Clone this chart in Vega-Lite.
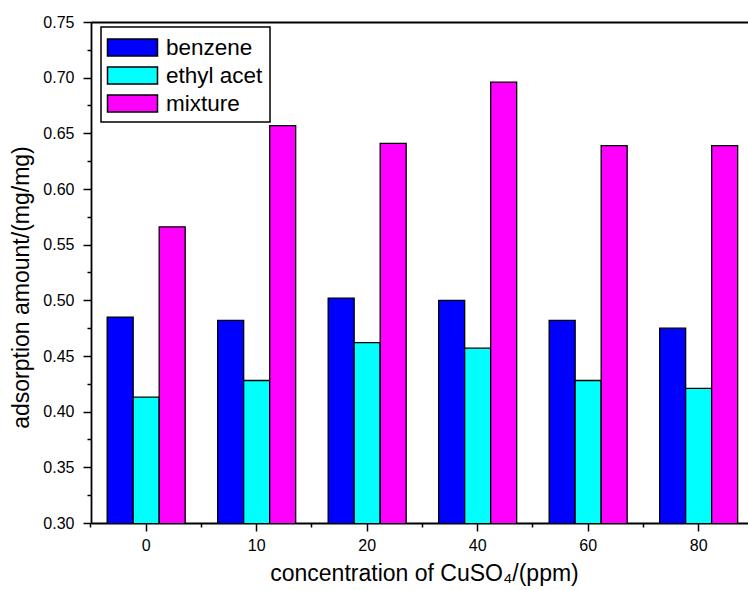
{
  "$schema": "https://vega.github.io/schema/vega-lite/v6.json",
  "autosize": "none",
  "width": 657,
  "height": 501,
  "padding": {"left": 91, "top": 22, "right": 0, "bottom": 67},
  "background": "white",
  "config": {
    "view": {"stroke": null},
    "font": "Liberation Sans",
    "axis": {"labelFont": "Liberation Sans", "titleFont": "Liberation Sans", "labelColor": "black", "titleColor": "black", "domainColor": "black", "tickColor": "black", "titleFontWeight": "normal"}
  },
  "data": {"values": [
    {"conc": "0", "series": "benzene", "value": 0.485},
    {"conc": "0", "series": "ethyl acet", "value": 0.413},
    {"conc": "0", "series": "mixture", "value": 0.566},
    {"conc": "10", "series": "benzene", "value": 0.482},
    {"conc": "10", "series": "ethyl acet", "value": 0.428},
    {"conc": "10", "series": "mixture", "value": 0.657},
    {"conc": "20", "series": "benzene", "value": 0.502},
    {"conc": "20", "series": "ethyl acet", "value": 0.462},
    {"conc": "20", "series": "mixture", "value": 0.641},
    {"conc": "40", "series": "benzene", "value": 0.500},
    {"conc": "40", "series": "ethyl acet", "value": 0.457},
    {"conc": "40", "series": "mixture", "value": 0.696},
    {"conc": "60", "series": "benzene", "value": 0.482},
    {"conc": "60", "series": "ethyl acet", "value": 0.428},
    {"conc": "60", "series": "mixture", "value": 0.639},
    {"conc": "80", "series": "benzene", "value": 0.475},
    {"conc": "80", "series": "ethyl acet", "value": 0.421},
    {"conc": "80", "series": "mixture", "value": 0.639}
  ]},
  "layer": [
    {
      "mark": {"type": "bar", "stroke": "black", "strokeWidth": 1.3, "clip": true},
      "encoding": {
        "x": {"field": "conc", "type": "nominal", "sort": ["0", "10", "20", "40", "60", "80"],
          "scale": {"paddingInner": 0.294, "paddingOuter": 0.12, "align": 0.61},
          "axis": {"orient": "bottom", "labelAngle": 0, "labelFontSize": 16, "labelPadding": 6, "tickSize": 8, "tickWidth": 1.5, "domainWidth": 1.8,
            "title": "concentration of CuSO₄/(ppm)", "titleFontSize": 23, "titlePadding": 9, "titleX": 333}},
        "xOffset": {"field": "series", "type": "nominal", "scale": {"paddingInner": 0, "paddingOuter": 0}},
        "y": {"field": "value", "type": "quantitative",
          "scale": {"domain": [0.3, 0.75], "nice": false, "zero": false},
          "axis": {"orient": "left", "values": [0.3, 0.35, 0.4, 0.45, 0.5, 0.55, 0.6, 0.65, 0.7, 0.75], "format": ".2f", "labelFontSize": 16, "labelPadding": 9, "tickSize": 8, "tickWidth": 1.5, "domainWidth": 1.8, "grid": false,
            "title": "adsorption amount/(mg/mg)", "titleFontSize": 23, "titlePadding": 9, "titleY": 265}},
        "color": {"field": "series", "type": "nominal",
          "scale": {"domain": ["benzene", "ethyl acet", "mixture"], "range": ["#0000FF", "#00FFFF", "#FF00FF"]},
          "legend": {"title": null, "orient": "none", "legendX": 10, "legendY": 5, "direction": "vertical",
            "symbolType": "M-2,-0.68H2V0.68H-2Z", "symbolSize": 625, "symbolStrokeColor": "black", "symbolStrokeWidth": 1.5, "symbolOpacity": 1, "symbolOffset": 11,
            "labelFontSize": 22.5, "labelColor": "black", "labelOffset": 20, "rowPadding": 3,
            "strokeColor": "black", "padding": 7,
            "encode": {"legend": {"update": {"strokeWidth": {"value": 1.5}}}}}}
      }
    },
    {
      "mark": {"type": "tick", "opacity": 0},
      "encoding": {
        "x": {"field": "conc", "type": "nominal", "sort": ["0", "10", "20", "40", "60", "80"],
          "axis": {"orient": "top", "labels": false, "ticks": false, "title": null, "domainWidth": 1.8, "domainColor": "black"}},
        "y": {"field": "value", "type": "quantitative",
          "axis": {"orient": "left", "values": [0.325, 0.375, 0.425, 0.475, 0.525, 0.575, 0.625, 0.675, 0.725], "labels": false, "domain": false, "tickSize": 4, "tickWidth": 1.5, "grid": false, "title": null}}
      }
    },
    {
      "mark": {"type": "tick", "opacity": 0},
      "encoding": {
        "x": {"field": "conc", "type": "nominal", "sort": ["0", "10", "20", "40", "60", "80"],
          "axis": {"orient": "bottom", "labels": false, "domain": false, "tickSize": 4, "tickWidth": 1.5, "bandPosition": -0.208, "title": null}},
        "y": {"field": "value", "type": "quantitative", "axis": null}
      }
    }
  ],
  "resolve": {"axis": {"x": "independent", "y": "independent"}}
}
